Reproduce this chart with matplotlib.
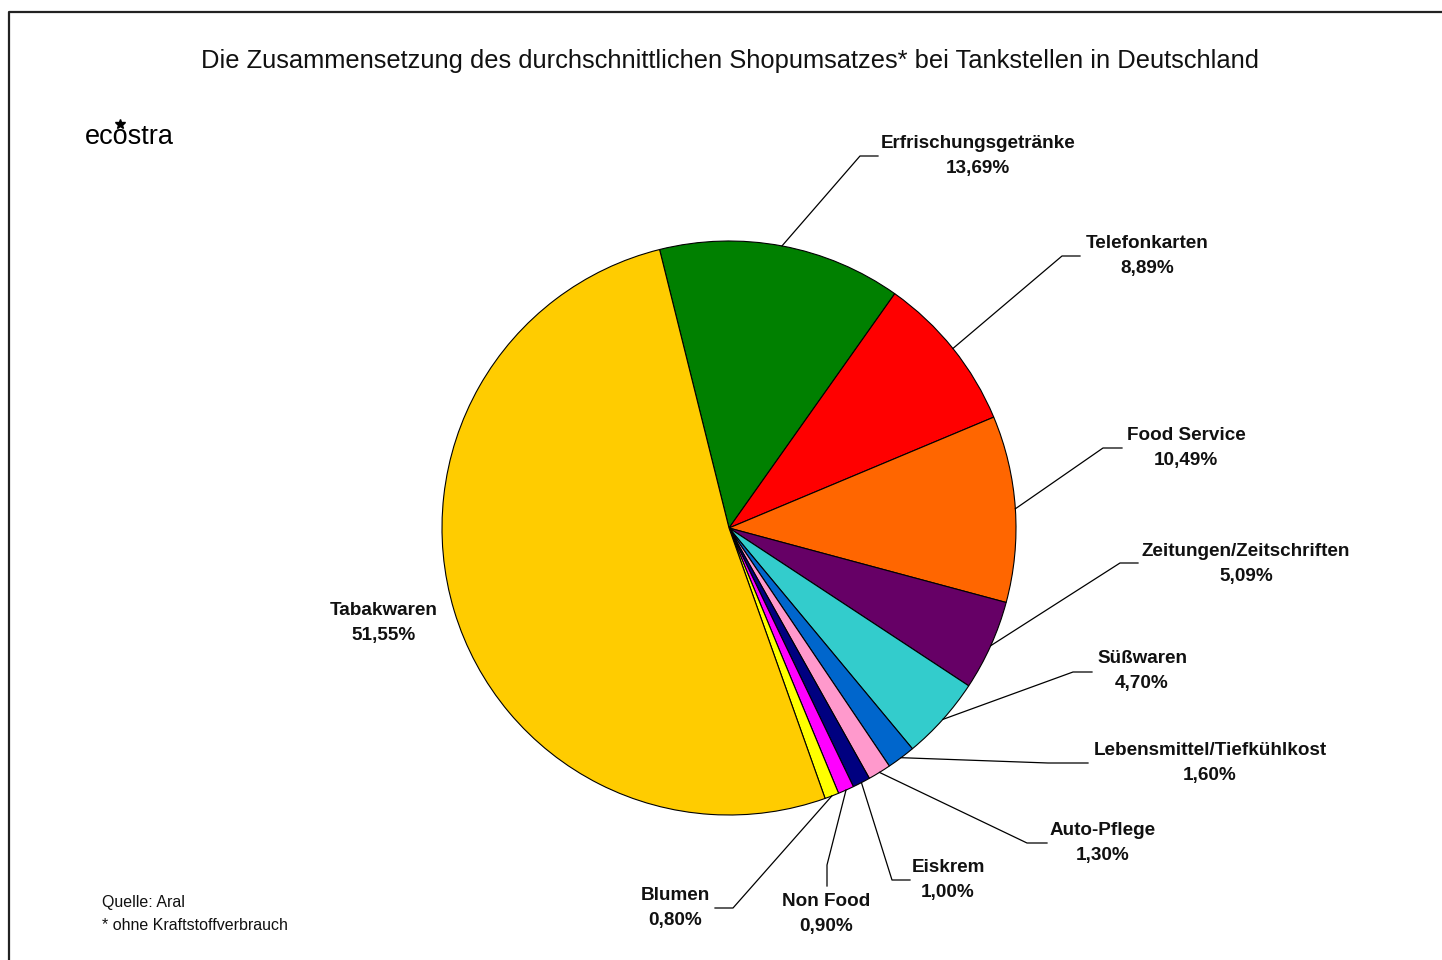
import matplotlib
matplotlib.use("Agg")
from matplotlib import pyplot as plt
import numpy as np

# data
categories = ["Erfrischungsgetränke", "Telefonkarten", "Food Service",
              "Zeitungen/Zeitschriften", "Süßwaren", "Lebensmittel/Tiefkühlkost",
              "Auto-Pflege", "Eiskrem", "Non Food", "Blumen", "Tabakwaren"]
shares = [13.69, 8.89, 10.49, 5.09, 4.70, 1.60, 1.30, 1.00, 0.90, 0.80, 51.55]
share_labels = ["13,69%", "8,89%", "10,49%", "5,09%", "4,70%", "1,60%",
                "1,30%", "1,00%", "0,90%", "0,80%", "51,55%"]
colors = ["#008000", "#FF0000", "#FF6600", "#660066", "#33CCCC", "#0066CC",
          "#FF99CC", "#000080", "#FF00FF", "#FFFF00", "#FFCC00"]

title = "Die Zusammensetzung des durchschnittlichen Shopumsatzes* bei Tankstellen in Deutschland"

# layout (pixel positions, y from top)
W, H = 1442, 960
cx, cy, rad = 729, 528, 287
# label centre, elbow point, end of leader (None = no leader)
label_pos = [(978, 156), (1147, 256), (1186, 448), (1246, 564), (1142, 671),
             (1210, 763), (1103, 843), (948, 880), (826, 914), (675, 908), (384, 623)]
elbows = [(860, 156), (1062, 256), (1103, 448), (1120, 563), (1073, 672),
          (1048, 763), (1027, 843), (892, 880), (827, 865), (733, 908), None]
ends = [(878, 156), (1080, 256), (1122, 448), (1138, 563), (1092, 672),
        (1088, 763), (1047, 843), (910, 880), (827, 886), (715, 908), None]


def fy(py):
    return H - py


fig = plt.figure(figsize=(W / 100, H / 100), dpi=100)
ax = fig.add_axes([0, 0, 1, 1])

wedges, _ = ax.pie(shares, colors=colors, startangle=104, counterclock=False,
                   center=(cx, fy(cy)), radius=rad,
                   wedgeprops=dict(edgecolor="black", linewidth=0.8))
ax.set_xlim(0, W)
ax.set_ylim(0, H)
ax.set_aspect("auto")
ax.axis("off")

lab_font = dict(family="Liberation Sans", fontsize=13.6, fontweight="bold", color="#111111")
for i, w in enumerate(wedges):
    lx, ly = label_pos[i]
    ax.text(lx, fy(ly), categories[i] + "\n" + share_labels[i], ha="center", va="center",
            linespacing=1.68, **lab_font)
    if elbows[i] is None:
        continue
    mid = np.deg2rad((w.theta1 + w.theta2) / 2)
    sx = cx + rad * np.cos(mid)
    sy = fy(cy) + rad * np.sin(mid)
    ex, ey = elbows[i]
    tx, ty = ends[i]
    ax.plot([sx, ex, tx], [sy, fy(ey), fy(ty)], color="black", linewidth=0.9)

# title
ax.text(730, fy(61), title, ha="center", va="center", family="Liberation Sans",
        fontsize=18.4, color="#111111")

# logo
ax.text(85, fy(137), "ecostra", ha="left", va="center", family="Liberation Sans",
        fontsize=19.5, color="black")
ax.plot([120], [fy(124)], marker="*", markersize=7, color="black")

# source notes
ax.text(102, fy(903), "Quelle: Aral", ha="left", va="center", family="Liberation Sans",
        fontsize=11.5, color="#111111")
ax.text(102, fy(925), "* ohne Kraftstoffverbrauch", ha="left", va="center",
        family="Liberation Sans", fontsize=11.5, color="#111111")

# frame
ax.plot([9, 9, W + 5], [fy(H + 5), fy(12), fy(12)], color="#222222", linewidth=1.6,
        solid_capstyle="projecting")

fig.savefig("out.png", dpi=100)
